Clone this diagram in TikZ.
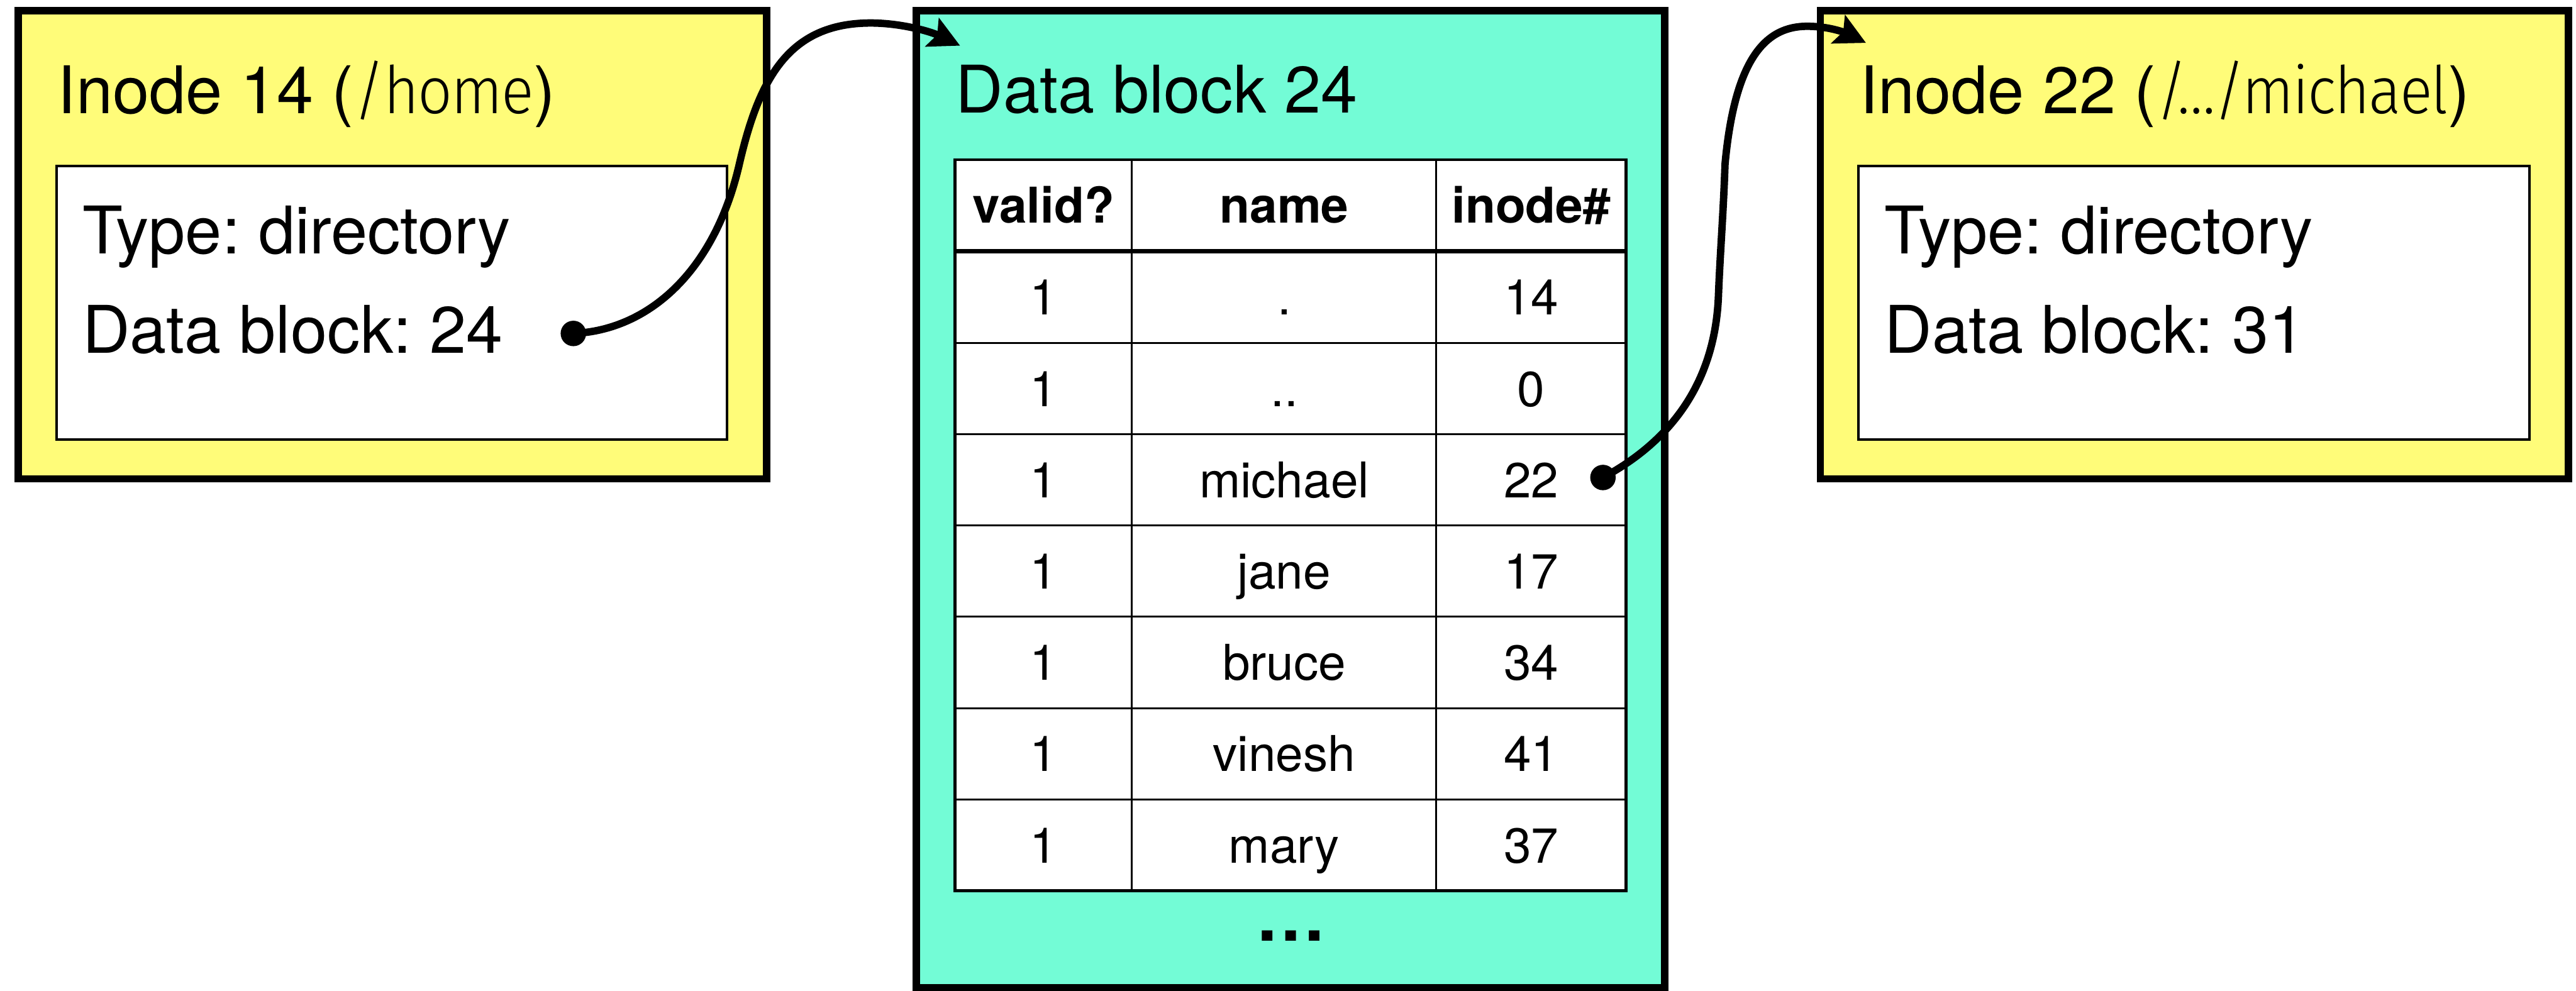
\documentclass[tikz,border=0pt]{standalone}
\usepackage{fontspec}
\setmainfont{TeX Gyre Heros}
\newfontfamily\lightfont{Fira Sans Light}[FakeStretch=0.92,LetterSpace=-2]
\usetikzlibrary{arrows.meta}
\definecolor{banana}{HTML}{FFFC79}
\definecolor{spindrift}{HTML}{73FCD6}
\begin{document}
\frenchspacing
\begin{tikzpicture}[x=1pt,y=-1pt,
  outerbox/.style={draw, line width=4.5pt, inner sep=0pt, outer sep=0pt},
  innerbox/.style={draw, fill=white, line width=1.5pt, inner sep=0pt, outer sep=0pt},
  big/.style={inner sep=0pt, anchor=base west, font=\fontsize{40}{48}\selectfont},
  cell/.style={inner sep=0pt, anchor=base, font=\fontsize{30}{36}\selectfont},
  head/.style={inner sep=0pt, anchor=base, font=\fontsize{30}{36}\selectfont\bfseries},
  dotnode/.style={circle, fill=black, inner sep=0pt, minimum size=15.5pt},
  conn/.style={line width=4.5pt, -{Stealth[length=18.7pt,width=18.9pt,inset=3.3pt]}},
]
\useasboundingbox (0,0) rectangle (1568,603);

% ---------- left inode box ----------
\node[outerbox, fill=banana, minimum width=455.5pt, minimum height=284.9pt] (inodeA) at (238.75,149.05) {};
\node[innerbox, minimum width=408.2pt, minimum height=166.7pt] (infoA) at (238.4,184.35) {};
\node[big] (titleA) at (35,69) {Inode 14 ({\lightfont /home})};
\node[big] (typeA) at (50,154.4) {Type: directory};
\node[big] (blockA) at (50,215) {Data block: 24};

% ---------- right inode box ----------
\node[outerbox, fill=banana, minimum width=455.5pt, minimum height=284.9pt] (inodeB) at (1335.75,149.05) {};
\node[innerbox, minimum width=408.2pt, minimum height=166.7pt] (infoB) at (1335.4,184.35) {};
\node[big] (titleB) at (1132,69) {Inode 22 ({\lightfont /…/michael})};
\node[big] (typeB) at (1147,154.4) {Type: directory};
\node[big] (blockB) at (1147,215) {Data block: 31};

% ---------- data block ----------
\node[outerbox, fill=spindrift, minimum width=455.6pt, minimum height=594.8pt] (datablk) at (785.6,304) {};
\node[big] (titleD) at (581.5,68.8) {Data block 24};

% table
\fill[white] (581.4,97.2) rectangle (989.7,542.3);
\foreach \yy in {208.7,264.3,319.9,375.5,431.1,486.7}
  \draw[line width=1.1pt] (581.4,\yy) -- (989.7,\yy);
\draw[line width=1.1pt] (689,97.2) -- (689,542.3);
\draw[line width=1.1pt] (874.3,97.2) -- (874.3,542.3);
\draw[line width=2.7pt] (581.4,153.1) -- (989.7,153.1);
\draw[line width=1.8pt] (581.4,97.2) rectangle (989.7,542.3);

\node[head] (h1) at (635.2,135.6) {valid?};
\node[head] (h2) at (781.7,135.6) {name};
\node[head] (h3) at (932,135.6) {inode\#};

\foreach \v/\n/\i [count=\r] in {1/./14, 1/../0, 1/michael/22, 1/jane/17, 1/bruce/34, 1/vinesh/41, 1/mary/37}{
  \pgfmathsetmacro\yb{153.1+55.6*(\r-1)+27.8+10.8}
  \node[cell] (v\r) at (635.2,\yb) {\v};
  \node[cell] (n\r) at (781.7,\yb) {\n};
  \node[cell] (i\r) at (932,\yb) {\i};
}

\node[anchor=base, inner sep=0pt, font=\fontsize{43}{50}\selectfont\bfseries] (more) at (785.6,572.7) {…};

% ---------- connectors ----------
\node[dotnode] (dotA) at (349,203) {};
\node[dotnode] (dotB) at (975.7,290.7) {};
\coordinate (tipA) at (584.4,27.8);
\coordinate (tipB) at (1135.8,26.1);

\draw[conn] (dotA.center) .. controls (395,201) and (435,165) .. (450,100)
  .. controls (462,48) and (480,14) .. (530,14)
  .. controls (548,14) and (566,19) .. (tipA);

\draw[conn] (dotB.center) .. controls (1018,268) and (1044,232) .. (1046,180)
  .. controls (1047,154) and (1049,130) .. (1050,100)
  .. controls (1056,35) and (1075,16) .. (1100,16)
  .. controls (1115,16) and (1125,20.8) .. (tipB);

\end{tikzpicture}
\end{document}
